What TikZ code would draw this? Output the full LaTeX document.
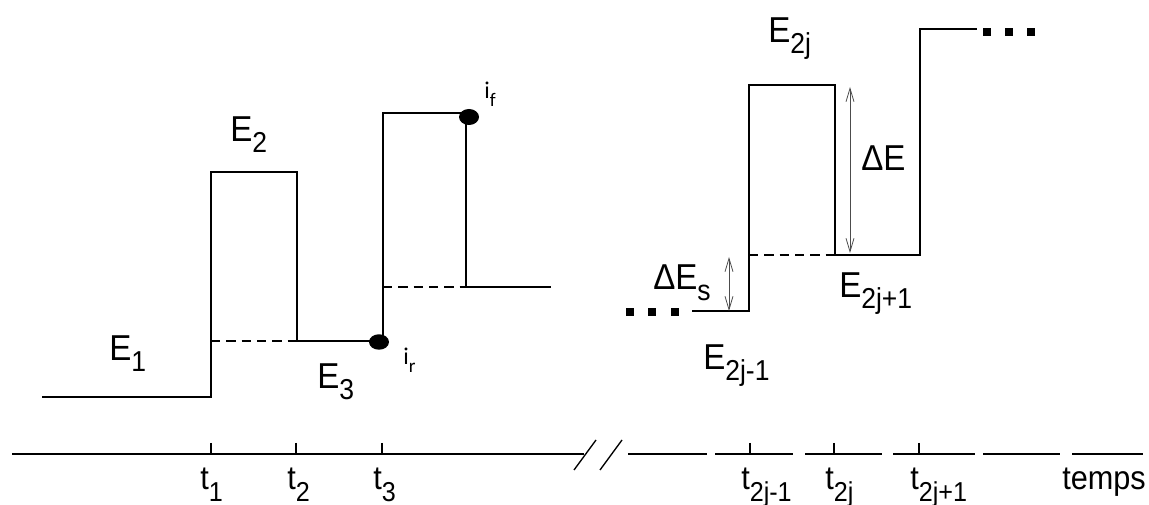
\documentclass[tikz,border=0pt]{standalone}
\usepackage{fontspec}
\setmainfont{Liberation Sans}[FakeStretch=0.92]
\newfontfamily\calfont{Carlito}
\usetikzlibrary{arrows.meta}
\newcommand\lsub[1]{\raisebox{-0.3em}{\scalebox{0.8}{#1}}}
\newcommand\tsub[1]{\raisebox{-0.36em}{\scalebox{0.82}{#1}}}
\tikzset{
  lvl/.style={line width=1.4pt, line cap=butt, line join=miter},
  dsh/.style={line width=1.3pt, dash pattern=on 7pt off 4.5pt},
  dim/.style={line width=0.6pt, black!70, {Straight Barb[length=10pt,width=6pt]}-{Straight Barb[length=10pt,width=6pt]}},
  elab/.style={inner sep=0pt, anchor=base west, font=\fontsize{27}{30}\selectfont},
  tlab/.style={inner sep=0pt, anchor=base west, font=\fontsize{25}{28}\selectfont},
  ilab/.style={inner sep=0pt, anchor=base west, font=\calfont\fontsize{18}{21}\selectfont},
  axisln/.style={line width=1pt},
  sqdot/.style={fill=black, minimum size=6pt, inner sep=0pt, draw=none},
}
\begin{document}
\begin{tikzpicture}[x=0.75pt,y=-0.75pt]
\useasboundingbox (0,0) rectangle (1149,505);
% ---------- left part ----------
\coordinate (a0) at (42,397);
\coordinate (a1) at (211,397);
\coordinate (a2) at (211,172);
\coordinate (a3) at (297,172);
\coordinate (a4) at (297,341);
\coordinate (a5) at (383,341);
\coordinate (a6) at (383,113);
\coordinate (a7) at (466,113);
\coordinate (a8) at (466,287);
\coordinate (a9) at (551,287);
\coordinate (d1) at (211,341);
\coordinate (d2) at (383,287);
\draw[lvl] (a0) -- (a1) -- (a2) -- (a3) -- (a4) -- (a5) -- (a6) -- (a7) -- (a8) -- (a9);
\draw[dsh] (d1) -- (a4);
\draw[dsh] (d2) -- (a8);
\fill (379,342) ellipse [x radius=7.5pt, y radius=5.8pt];
\fill (469,117) ellipse [x radius=7.5pt, y radius=6pt];
\node[elab] (E1) at (109,361) {E\lsub{1}};
\node[elab] (E2) at (230,142) {E\lsub{2}};
\node[elab] (E3) at (317,389) {E\lsub{3}};
\node[ilab] (ir) at (403,365) {i\lsub{r}};
\node[ilab] (if) at (484,99) {i\lsub{f}};
% ---------- right part ----------
\node[sqdot] (p1) at (630,312) {};
\node[sqdot] (p2) at (652,312) {};
\node[sqdot] (p3) at (675,312) {};
\coordinate (b0) at (692,311);
\coordinate (b1) at (749,311);
\coordinate (b2) at (749,85);
\coordinate (b3) at (835,85);
\coordinate (b4) at (835,255);
\coordinate (b5) at (920,255);
\coordinate (b6) at (920,29);
\coordinate (b7) at (977,29);
\coordinate (d3) at (749,255);
\draw[lvl] (b0) -- (b1) -- (b2) -- (b3) -- (b4) -- (b5) -- (b6) -- (b7);
\draw[dsh] (d3) -- (b4);
\node[sqdot] (q1) at (987,32) {};
\node[sqdot] (q2) at (1009,32) {};
\node[sqdot] (q3) at (1031,32) {};
\coordinate (s1) at (729,257);
\coordinate (s2) at (729,311);
\draw[dim] (s1) -- (s2);
\coordinate (g1) at (850,87);
\coordinate (g2) at (850,253);
\draw[dim] (g1) -- (g2);
\node[elab] (E2j) at (768,43) {E\lsub{2j}};
\node[elab] (dE) at (861,171) {ΔE};
\node[elab] (dEs) at (653,290) {ΔE\lsub{s}};
\node[elab] (E2jm) at (703,370) {E\lsub{2j-1}};
\node[elab] (E2jp) at (839,298) {E\lsub{2j+1}};
% ---------- time axis ----------
\coordinate (x0) at (12,454);
\coordinate (x1) at (584,454);
\draw[axisln] (x0) -- (x1);
\draw[axisln] (574,470) -- (596,440);
\draw[axisln] (600,470) -- (622,440);
\foreach \u/\v in {628/707, 715/793, 805/882, 893/975, 983/1060, 1072/1143}
  \draw[axisln] (\u,454) -- (\v,454);
\foreach \t in {211,296,382,750,834,919}
  \draw[axisln] (\t,443) -- (\t,454);
\node[tlab] (t1) at (200,489) {t\tsub{1}};
\node[tlab] (t2) at (287,489) {t\tsub{2}};
\node[tlab] (t3) at (373,489) {t\tsub{3}};
\node[tlab] (t4) at (741,489) {t\tsub{2j-1}};
\node[tlab] (t5) at (825,489) {t\tsub{2j}};
\node[tlab] (t6) at (910,489) {t\tsub{2j+1}};
\node[tlab] (tm) at (1062,489) {temps};
\end{tikzpicture}
\end{document}
